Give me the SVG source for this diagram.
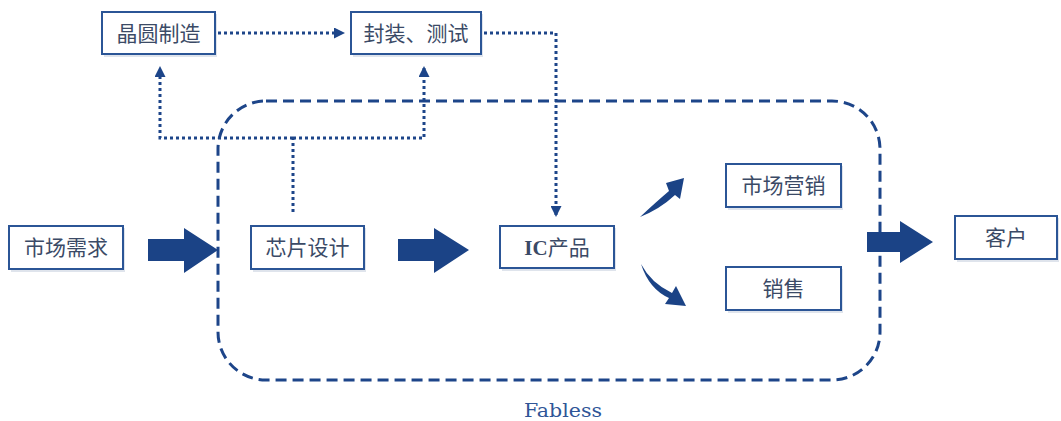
<svg xmlns="http://www.w3.org/2000/svg" width="1061" height="421" viewBox="0 0 1061 421">
<style>
.box{fill:#fff;stroke:#2b5596;stroke-width:2}
.sh{fill:#dfe4ec}
.t{font-family:"Noto Sans CJK SC","Liberation Sans",sans-serif;font-size:21px;fill:#3b4a66;text-anchor:middle}
.dot{fill:none;stroke:#1d4589;stroke-width:3;stroke-dasharray:3 3}
.blk{fill:#1b4386}
</style>
<defs>
<marker id="ah" markerWidth="11" markerHeight="11" refX="9" refY="5.5" orient="auto" markerUnits="userSpaceOnUse"><path d="M0,0 L11,5.5 L0,11 Z" fill="#1d4589"/></marker>
</defs>
<rect width="1061" height="421" fill="#fff"/>
<g id="fabless">
<rect x="218" y="101" width="662" height="279" rx="48" fill="none" stroke="#1d4589" stroke-width="3" stroke-dasharray="11 6"/>
<text x="524" y="417" font-family="DejaVu Serif,serif" font-size="19" fill="#2f5597" textLength="78" lengthAdjust="spacingAndGlyphs">Fabless</text>
</g>
<g id="connectors">
<path class="dot" d="M218,33 H343" marker-end="url(#ah)"/>
<path class="dot" d="M484,33 H556 V215" marker-end="url(#ah)"/>
<path class="dot" d="M293,212 V138"/>
<path class="dot" d="M293,138 H160 V68" marker-end="url(#ah)"/>
<path class="dot" d="M293,138 H424 V68" marker-end="url(#ah)"/>
<path class="blk" d="M148,239 H184 V228 L218,250 L184,273 V261 H148 Z"/>
<path class="blk" d="M398,239 H434 V228 L469,250 L434,273 V261 H398 Z"/>
<path class="blk" d="M867,232 H900 V221 L933,242 L900,263 V252 H867 Z"/>
<path class="blk" d="M640,217 Q656,202 669,191 L666,183 L684,178 L680,199 L675,195 Q660,209 640,217 Z"/>
<path class="blk" d="M641,264 Q651,283 672,293 L676,286 L686,306 L665,304 L669,298 Q649,289 641,264 Z"/>
</g>
<g id="wafer"><rect class="sh" x="104" y="14" width="113" height="43"/><rect class="box" x="102" y="12" width="113" height="42"/><text class="t" x="158.5" y="41">晶圆制造</text></g>
<g id="package"><rect class="sh" x="353" y="14" width="130" height="43"/><rect class="box" x="351" y="12" width="130" height="42"/><text class="t" x="416" y="41">封装、测试</text></g>
<g id="demand"><rect class="sh" x="11" y="228" width="114" height="44"/><rect class="box" x="9" y="226" width="114" height="43"/><text class="t" x="66" y="255">市场需求</text></g>
<g id="design"><rect class="sh" x="253" y="228" width="113" height="44"/><rect class="box" x="251" y="226" width="113" height="43"/><text class="t" x="307.5" y="255">芯片设计</text></g>
<g id="ic"><rect class="sh" x="502" y="228" width="114" height="43"/><rect class="box" x="500" y="226" width="114" height="42"/><text class="t" x="557" y="255"><tspan font-family="Liberation Serif,serif" font-weight="bold" font-size="21">IC</tspan>产品</text></g>
<g id="marketing"><rect class="sh" x="728" y="166" width="115" height="44"/><rect class="box" x="726" y="164" width="115" height="43"/><text class="t" x="783.5" y="193">市场营销</text></g>
<g id="sales"><rect class="sh" x="728" y="269" width="115" height="44"/><rect class="box" x="726" y="267" width="115" height="43"/><text class="t" x="783.5" y="296">销售</text></g>
<g id="customer"><rect class="sh" x="957" y="218" width="102" height="44"/><rect class="box" x="955" y="216" width="102" height="43"/><text class="t" x="1006" y="245">客户</text></g>
</svg>
